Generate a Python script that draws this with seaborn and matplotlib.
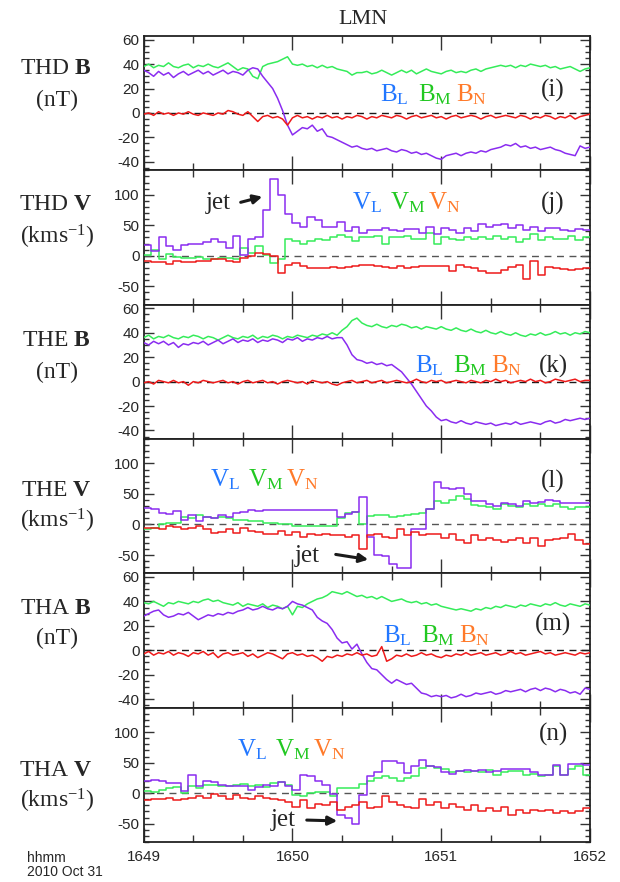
import numpy as np
import matplotlib
matplotlib.use("Agg")
import matplotlib.pyplot as plt
from matplotlib.ticker import MultipleLocator, FixedLocator
import seaborn as sns

# ---------------- data (seconds after 16:49:00) ----------------
B_STEP = 2   # magnetic field cadence, s
V_STEP = 3   # ion moment (spin) cadence, s

# THD B (nT)
thd_bl = [35, 33, 30, 34, 31, 33, 29, 32, 34, 31,
          33, 35, 32, 34, 31, 33, 35, 32, 34, 33,
          31, 35, 37, 36, 30, 25, 20, 12, 2, -10,
          -18, -15, -12, -13, -10, -15, -13, -19, -20, -22,
          -24, -26, -28, -27, -29, -30, -29, -31, -30, -29,
          -31, -32, -30, -31, -33, -32, -34, -33, -35, -37,
          -38, -35, -34, -33, -35, -33, -32, -33, -31, -32,
          -30, -29, -28, -26, -27, -25, -28, -27, -29, -28,
          -30, -29, -28, -30, -31, -33, -34, -35, -27, -29,
          -28]
thd_bm = [38, 40, 37, 39, 38, 41, 38, 37, 39, 40,
          37, 39, 38, 40, 38, 37, 39, 41, 38, 35,
          37, 36, 30, 28, 38, 40, 41, 42, 44, 46,
          40, 39, 40, 38, 39, 37, 39, 37, 38, 36,
          35, 34, 31, 33, 33, 34, 32, 33, 35, 33,
          31, 33, 35, 33, 35, 32, 34, 36, 34, 33,
          32, 34, 35, 33, 34, 33, 35, 36, 34, 36,
          37, 38, 39, 38, 39, 37, 39, 38, 40, 39,
          38, 39, 37, 38, 36, 37, 38, 36, 34, 36,
          37]
thd_bn = [-1, 0, -2, 1, -1, 0, -2, 0, -1, 1,
          -1, -2, 0, -1, -2, 0, -1, 2, 1, -1,
          -2, 1, -3, -7, -3, -2, -4, -3, -5, -10,
          -4, -2, -4, -3, -5, -3, -4, -2, -4, -3,
          -5, -3, -4, -2, -3, -5, -3, -4, -2, -3,
          -4, -2, -3, -5, -3, -2, -4, -3, -2, -4,
          -3, -5, -3, -2, -4, -3, -2, -3, -5, -3,
          -2, -4, -3, -2, -3, -4, -2, -3, -5, -3,
          -4, -2, -3, -5, -3, -4, -2, -5, -3, -2,
          -1]

# THE B (nT)
the_bl = [32, 30, 33, 31, 33, 30, 32, 28, 31, 30,
          32, 31, 33, 30, 32, 34, 31, 33, 35, 32,
          34, 33, 35, 32, 34, 33, 35, 34, 32, 35,
          34, 36, 33, 35, 34, 36, 35, 37, 35, 36,
          36, 30, 22, 18, 17, 15, 16, 14, 15, 13,
          14, 11, 8, 3, -2, -8, -14, -20, -24, -29,
          -32, -31, -33, -34, -32, -34, -35, -33, -34, -35,
          -34, -36, -35, -34, -35, -33, -35, -34, -33, -34,
          -35, -33, -32, -34, -33, -31, -32, -31, -30, -31,
          -30]
the_bm = [36, 38, 35, 37, 36, 38, 36, 35, 37, 36,
          38, 37, 35, 37, 36, 34, 36, 38, 36, 35,
          37, 36, 38, 35, 37, 36, 38, 37, 35, 37,
          36, 38, 37, 36, 38, 37, 39, 38, 40, 38,
          42, 45, 50, 52, 48, 46, 45, 47, 45, 44,
          46, 45, 47, 46, 44, 45, 43, 45, 44, 43,
          45, 43, 42, 44, 42, 41, 43, 41, 40, 42,
          40, 39, 41, 39, 38, 40, 38, 37, 39, 38,
          40, 38, 39, 41, 39, 40, 38, 40, 39, 41,
          40]
the_bn = [-1, 0, -2, 1, 0, -1, 1, -1, 0, -3,
          0, -1, 1, 0, -1, 0, 1, -1, 0, -2,
          0, 1, -1, 0, 1, -1, 0, -2, 0, 1,
          0, -1, 0, -2, 1, 0, -1, 0, -2, -3,
          -1, 0, 1, -1, 0, 1, -1, 0, 1, -1,
          0, 1, 0, -1, 0, 2, 0, -1, 1, 0,
          1, -1, 0, 1, 0, -1, 1, 0, -1, 1,
          0, 2, 0, 1, -1, 0, 1, 0, 2, 0,
          1, -1, 0, 2, 1, 0, 1, 2, 0, 1,
          1]

# THA B (nT)
tha_bl = [28, 30, 32, 33, 29, 27, 28, 30, 29, 31,
          28, 25, 27, 29, 28, 30, 29, 31, 30, 32,
          33, 35, 33, 34, 36, 34, 33, 35, 34, 36,
          40, 38, 37, 35, 33, 27, 24, 22, 17, 10,
          6, 7, 1, 5, -3, -10, -15, -16, -20, -24,
          -27, -24, -26, -28, -27, -31, -35, -36, -38, -37,
          -38, -37, -39, -38, -36, -38, -37, -35, -36, -35,
          -34, -36, -35, -33, -34, -33, -32, -34, -32, -31,
          -33, -31, -32, -34, -32, -33, -35, -34, -36, -31,
          -32]
tha_bm = [39, 38, 40, 38, 36, 39, 38, 40, 39, 38,
          40, 39, 41, 42, 40, 41, 39, 38, 37, 39,
          36, 38, 37, 36, 38, 35, 37, 36, 34, 36,
          29, 36, 35, 38, 40, 42, 43, 45, 48, 47,
          46, 48, 46, 44, 45, 43, 44, 42, 44, 42,
          40, 41, 42, 40, 39, 40, 38, 39, 37, 38,
          36, 35, 34, 33, 34, 33, 32, 34, 33, 35,
          34, 36, 35, 37, 36, 35, 37, 36, 38, 37,
          36, 38, 37, 39, 37, 36, 38, 37, 36, 38,
          37]
tha_bn = [-3, -1, -4, -2, -3, -1, -4, -2, -3, -5,
          -2, -3, -1, -4, -2, -6, -3, -2, -4, -3,
          -2, -5, -3, -6, -4, -2, -3, -5, -7, -3,
          -2, -4, -3, -5, -4, -6, -9, -5, -6, -4,
          -5, -3, -4, -2, -4, -3, -5, -4, 3, -9,
          -7, -4, -5, -3, -5, -4, -2, -4, -3, -5,
          -6, -4, -5, -3, -4, -2, -4, -3, -2, -4,
          -3, -2, -4, -3, -1, -3, -2, -4, -3, -2,
          -1, -3, -2, -4, -3, -2, -3, -4, -2, -3,
          -2]

# THD V (km/s)
thd_vl = [18, 8, 30, 16, 9, 18, 19, 20, 22, 27,
          22, 13, 33, 2, 27, 30, 75, 125, 100, 68,
          53, 48, 64, 58, 48, 48, 55, 40, 48, 37,
          42, 43, 45, 42, 40, 44, 44, 38, 48, 35,
          46, 42, 37, 46, 41, 52, 48, 50, 52, 45,
          50, 43, 48, 41, 46, 46, 42, 40, 44, 42]
thd_vm = [2, 10, -6, 3, -2, -3, -4, -2, -5, -6,
          -4, -3, -5, 12, 5, 16, 2, -12, -5, 28,
          25, 20, 25, 27, 26, 30, 34, 30, 25, 30,
          30, 32, 20, 30, 30, 32, 27, 28, 38, 20,
          30, 28, 26, 30, 28, 30, 28, 32, 27, 30,
          22, 28, 35, 26, 30, 28, 28, 32, 26, 30]
thd_vn = [-8, -10, -10, -13, -8, -10, -10, -8, -8, -6,
          -6, -8, -10, -3, 0, 5, 3, 0, -28, -15,
          -12, -17, -20, -20, -20, -18, -20, -18, -16, -15,
          -15, -16, -18, -20, -17, -20, -18, -17, -17, -17,
          -16, -25, -15, -18, -20, -25, -28, -28, -24, -18,
          -15, -38, -8, -32, -18, -20, -22, -24, -22, -20]

# THE V (km/s)
the_vl = [27, 25, 18, 17, 22, 8, 15, 5, 13, 10,
          15, 12, 18, 20, 24, 22, 24, 24, 24, 24,
          24, 24, 24, 24, 24, 24, 12, 17, 21, 45,
          -20, -50, -52, -65, -72, -72, -7, -7, 25, 69,
          60, 58, 60, 50, 38, 38, 33, 30, 35, 33,
          30, 38, 35, 37, 40, 38, 35, 35, 35, 36]
the_vm = [-8, -5, 0, 2, 3, 12, 10, 15, 13, 10,
          12, 10, 8, 8, 6, 5, 3, 2, 0, 0,
          -2, -3, -2, -2, -2, -2, 10, 18, 20, 0,
          14, 15, 15, 13, 14, 16, 17, 18, 25, 38,
          35, 40, 47, 42, 32, 30, 28, 26, 33, 30,
          28, 33, 30, 34, 30, 33, 28, 25, 28, 29]
the_vn = [-5, -6, -8, -2, -4, -8, -6, -3, -8, -14,
          -12, -8, -14, -5, -10, -12, -16, -15, -10, -18,
          -12, -20, -15, -18, -15, -17, -18, -20, -18, -40,
          -18, -15, -20, -22, -8, -18, -12, -18, -15, -15,
          -22, -15, -25, -30, -18, -25, -22, -25, -28, -25,
          -22, -30, -22, -35, -25, -24, -22, -15, -25, -32]

# THA V (km/s)
tha_vl = [20, 22, 20, 17, 17, 3, 30, 12, 20, 18,
          13, 12, 12, 12, 5, 10, 14, 12, 18, 12,
          5, 30, 28, 20, 14, -2, -35, -40, -50, -3,
          28, 35, 52, 52, 50, 33, 45, 55, 45, 43,
          35, 32, 37, 38, 36, 38, 35, 37, 40, 40,
          40, 40, 35, 30, 30, 46, 30, 48, 48, 46]
tha_vm = [3, 2, 5, 8, 10, 0, 12, 8, 14, 14,
          12, 12, 14, 15, 12, 13, 10, 16, 18, 14,
          -3, -5, 0, 2, 2, -5, 8, 8, 8, 15,
          20, 25, 28, 25, 20, 25, 28, 42, 45, 42,
          40, 35, 37, 35, 37, 35, 38, 30, 35, 37,
          37, 30, 32, 28, 30, 45, 30, 40, 45, 30]
tha_vn = [-12, -10, -10, -8, -12, -10, -8, -5, -8, -2,
          -5, -10, -3, -8, -10, -5, -8, -10, -12, -15,
          -22, -12, -25, -18, -20, -15, -28, -22, -20, -15,
          -25, -22, -5, -15, -20, -22, -25, -10, -20, -15,
          -25, -18, -22, -28, -20, -30, -25, -30, -22, -35,
          -28, -32, -27, -30, -28, -32, -30, -32, -30, -25]

time_ticks = [0, 60, 120, 180]
time_labels = ["1649", "1650", "1651", "1652"]

probes = ["THD", "THD", "THE", "THE", "THA", "THA"]
panel_tags = ["(i)", "(j)", "(k)", "(l)", "(m)", "(n)"]

# ---------------- style ----------------
sns.set_theme(style="ticks")
plt.rcParams.update({
    "font.family": ["Liberation Sans", "DejaVu Sans"],
    "mathtext.fontset": "custom",
    "mathtext.rm": "Liberation Serif",
    "mathtext.it": "Liberation Serif:italic",
    "mathtext.bf": "Liberation Serif:bold",
    "axes.linewidth": 1.3,
    "axes.edgecolor": "#222222",
    "axes.unicode_minus": False,
})

C_L = "#8a2cf0"   # purple
C_M = "#35ec5a"   # green
C_N = "#ee1a1a"   # red
T_L = "#2277ff"
T_M = "#22c822"
T_N = "#ff7a2a"
SERIF = "Liberation Serif"

W, H = 620, 882
fig = plt.figure(figsize=(W / 100, H / 100), dpi=100)
axes = fig.subplots(6, 1, sharex=True)
fig.subplots_adjust(left=143.7 / W, right=590 / W, top=1 - 36 / H,
                    bottom=1 - 842 / H, hspace=0)


def fx(x):
    return x / W


def fy(y):
    return 1 - y / H


def draw_b(ax, bl, bm, bn):
    t = np.arange(len(bl)) * B_STEP
    ax.axhline(0, color="k", lw=1.0, ls=(0, (5, 4)), zorder=1)
    for vals, c in ((bm, C_M), (bl, C_L), (bn, C_N)):
        sns.lineplot(x=t, y=vals, ax=ax, color=c, lw=1.1, estimator=None,
                     sort=False, legend=False, zorder=3)
    ax.set_ylim(-47, 63)
    ax.yaxis.set_major_locator(FixedLocator([-40, -20, 0, 20, 40, 60]))
    ax.yaxis.set_minor_locator(MultipleLocator(5))


def draw_v(ax, vl, vm, vn):
    t = np.arange(len(vl) + 1) * V_STEP
    ax.axhline(0, color="#555555", lw=1.0, ls=(0, (5, 4)), zorder=1)
    for vals, c in ((vm, C_M), (vl, C_L), (vn, C_N)):
        sns.lineplot(x=t, y=list(vals) + [vals[-1]], ax=ax, color=c, lw=1.1,
                     estimator=None, sort=False, legend=False,
                     drawstyle="steps-post", zorder=3)
    ax.set_ylim(-80, 140)
    ax.yaxis.set_major_locator(FixedLocator([-50, 0, 50, 100]))
    ax.yaxis.set_minor_locator(MultipleLocator(10))


draw_b(axes[0], thd_bl, thd_bm, thd_bn)
draw_v(axes[1], thd_vl, thd_vm, thd_vn)
draw_b(axes[2], the_bl, the_bm, the_bn)
draw_v(axes[3], the_vl, the_vm, the_vn)
draw_b(axes[4], tha_bl, tha_bm, tha_bn)
draw_v(axes[5], tha_vl, tha_vm, tha_vn)

for ax in axes:
    ax.set_xlim(0, 180)
    ax.set_xlabel("")
    ax.set_ylabel("")
    ax.xaxis.set_major_locator(FixedLocator(time_ticks))
    ax.xaxis.set_minor_locator(MultipleLocator(20))
    ax.tick_params(which="both", direction="in", top=True, right=True,
                   color="#333333", width=1.0, labelsize=11, pad=3)
    ax.tick_params(axis="y", which="major", length=7)
    ax.tick_params(axis="y", which="minor", length=3.5)
    ax.tick_params(axis="x", which="major", length=10)
    ax.tick_params(axis="x", which="minor", length=5)
    for s in ax.spines.values():
        s.set_visible(True)
axes[-1].set_xticks(time_ticks)
axes[-1].set_xticklabels(time_labels)
axes[-1].tick_params(axis="x", labelsize=11, pad=6)

# title
fig.text(fx(363), fy(19), "LMN", family=SERIF, fontsize=16,
         ha="center", va="center")

# left-hand panel labels
left_rows = [(68, 100, "B", "(nT)"), (205, 237, "V", r"(kms$^{\mathregular{-1}}$)"),
             (340, 372, "B", "(nT)"), (490, 521, "V", r"(kms$^{\mathregular{-1}}$)"),
             (608, 638, "B", "(nT)"), (770, 801, "V", r"(kms$^{\mathregular{-1}}$)")]
for probe, (y1, y2, q, unit) in zip(probes, left_rows):
    fig.text(fx(56), fy(y1), probe + r" $\mathbf{" + q + "}$", family=SERIF,
             fontsize=17, ha="center", va="center")
    fig.text(fx(57), fy(y2), unit, family=SERIF, fontsize=17,
             ha="center", va="center")

# component keys
key_rows = [(380, 95, "B"), (352, 203, "V"), (415, 366, "B"),
            (210, 480, "V"), (383, 636, "B"), (237, 750, "V")]
for x0, yc, q in key_rows:
    for k, (sub, col) in enumerate((("L", T_L), ("M", T_M), ("N", T_N))):
        fig.text(fx(x0 + 38 * k), fy(yc), q + r"$_{\mathregular{" + sub + "}}$",
                 family=SERIF, fontsize=18, color=col, ha="left", va="center")

# panel tags
tag_y = [90, 203, 366, 481, 624, 734]
for tag, yc in zip(panel_tags, tag_y):
    fig.text(fx(553), fy(yc), tag, family=SERIF, fontsize=18,
             ha="center", va="center")

# jet annotations
jets = [((218, 203), (238, 203), (265, 196)),
        ((307, 556), (333, 554), (371, 560)),
        ((283, 820), (304, 820), (340, 821))]
for (tx, ty), (ax0, ay0), (ax1, ay1) in jets:
    fig.text(fx(tx), fy(ty), "jet", family=SERIF, fontsize=18,
             ha="center", va="center")
    fig.add_artist(matplotlib.patches.FancyArrowPatch(
        (fx(ax0), fy(ay0)), (fx(ax1), fy(ay1)), transform=fig.transFigure,
        arrowstyle="-|>", mutation_scale=13, lw=2.2, color="k"))

# time axis annotation
fig.text(fx(27), fy(858), "hhmm", fontsize=10, ha="left", va="center")
fig.text(fx(27), fy(872), "2010 Oct 31", fontsize=10, ha="left", va="center")

fig.savefig("out.png", dpi=100)
